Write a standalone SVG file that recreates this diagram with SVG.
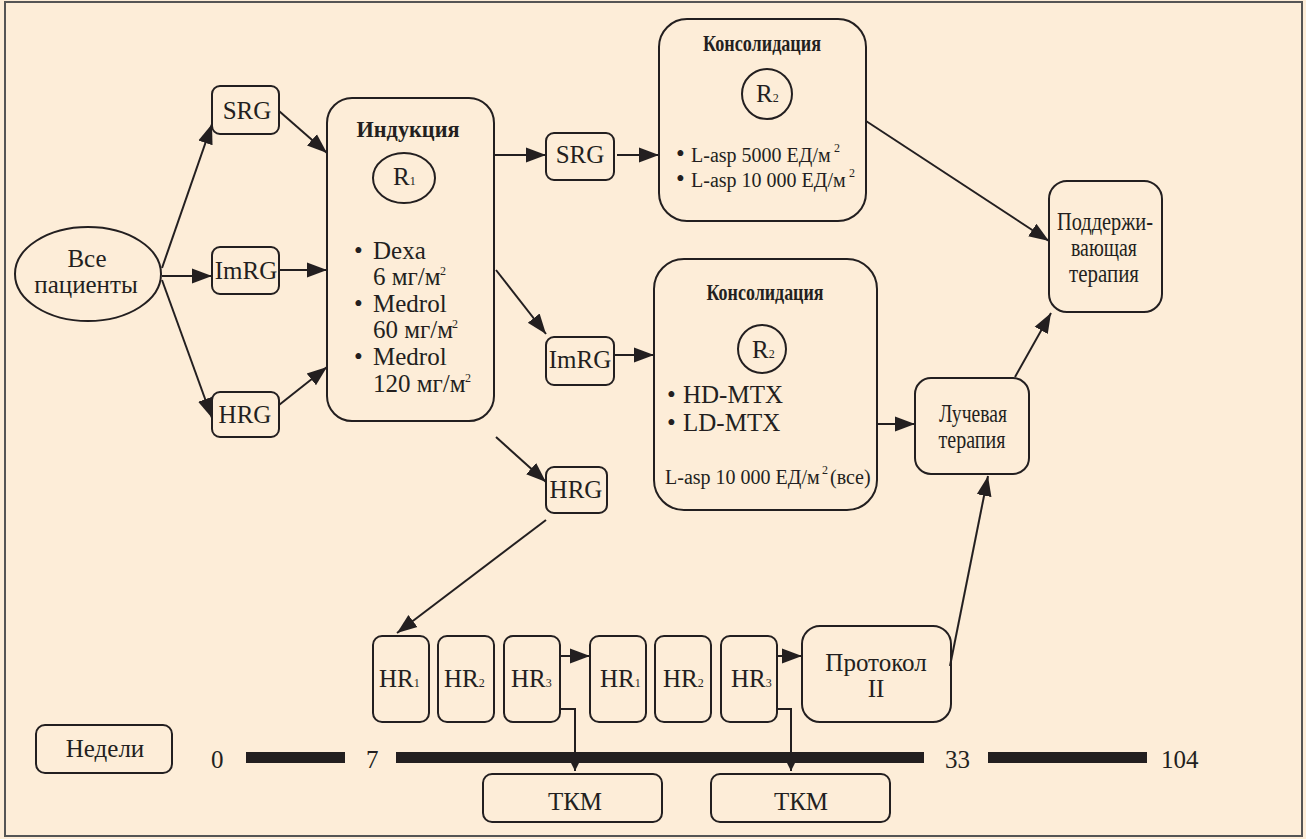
<svg xmlns="http://www.w3.org/2000/svg" width="1306" height="839" viewBox="0 0 1306 839">
<defs>
<marker id="ah" markerUnits="userSpaceOnUse" markerWidth="22" markerHeight="18" refX="20" refY="9" orient="auto">
<path d="M0,1.5 L20,9 L0,16.5 Z" fill="#231f20"/>
</marker>
<marker id="sm" markerUnits="userSpaceOnUse" markerWidth="12" markerHeight="10" refX="10" refY="5" orient="auto">
<path d="M0,0 L10,5 L0,10 Z" fill="#231f20"/>
</marker>
<style>
.bx{fill:none;stroke:#231f20;stroke-width:2}
.t{font-family:"Liberation Serif","Times New Roman",serif;font-size:25px;fill:#231f20}
.n{font-size:20px}
.c{text-anchor:middle}
.b{font-weight:bold;font-size:23px}
.sub{font-size:12px}
.sup{font-family:"Liberation Serif","Times New Roman",serif;font-size:12px;fill:#231f20}
.ln{fill:none;stroke:#231f20;stroke-width:2}
.bar{fill:#231f20}
</style>
</defs>
<rect x="0" y="0" width="1306" height="839" fill="#FDEDD8"/>
<rect x="5" y="2" width="1297" height="834" fill="#FDEDD8" stroke="#555" stroke-width="2"/>

<g id="connectors">
<line class="ln" x1="162" y1="268" x2="212" y2="124" marker-end="url(#ah)"/>
<line class="ln" x1="162" y1="276" x2="212" y2="276" marker-end="url(#ah)"/>
<line class="ln" x1="162" y1="280" x2="212" y2="418" marker-end="url(#ah)"/>
<line class="ln" x1="279" y1="111" x2="327" y2="153" marker-end="url(#ah)"/>
<line class="ln" x1="279" y1="270" x2="327" y2="270" marker-end="url(#ah)"/>
<line class="ln" x1="279" y1="405" x2="327" y2="367" marker-end="url(#ah)"/>
<line class="ln" x1="494" y1="155" x2="546" y2="155" marker-end="url(#ah)"/>
<line class="ln" x1="617" y1="155" x2="659" y2="155" marker-end="url(#ah)"/>
<line class="ln" x1="496" y1="270" x2="546" y2="334" marker-end="url(#ah)"/>
<line class="ln" x1="614" y1="355" x2="654" y2="355" marker-end="url(#ah)"/>
<line class="ln" x1="496" y1="437" x2="546" y2="482" marker-end="url(#ah)"/>
<line class="ln" x1="866" y1="121" x2="1049" y2="241" marker-end="url(#ah)"/>
<line class="ln" x1="877" y1="424" x2="915" y2="424" marker-end="url(#ah)"/>
<line class="ln" x1="1015" y1="377" x2="1051" y2="313" marker-end="url(#ah)"/>
<line class="ln" x1="950" y1="666" x2="988" y2="476" marker-end="url(#ah)"/>
<line class="ln" x1="546" y1="520" x2="397" y2="633" marker-end="url(#ah)"/>
<line class="ln" x1="560" y1="656" x2="590" y2="656" marker-end="url(#ah)"/>
<line class="ln" x1="777" y1="656" x2="802" y2="656" marker-end="url(#ah)"/>
<polyline class="ln" points="560,709 575,709 575,771" marker-end="url(#sm)"/>
<polyline class="ln" points="777,709 791,709 791,771" marker-end="url(#sm)"/>
</g>

<g id="all-patients">
<ellipse class="bx" cx="88" cy="274" rx="73" ry="47"/>
<text class="t c" x="87" y="267">Все</text>
<text class="t c" x="86" y="293">пациенты</text>
</g>

<g id="srg1"><rect class="bx" x="212" y="86" width="67" height="48" rx="8"/><text class="t c" x="247" y="119">SRG</text></g>
<g id="imrg1"><rect class="bx" x="212" y="247" width="67" height="47" rx="8"/><text class="t c" x="246" y="279">ImRG</text></g>
<g id="hrg1"><rect class="bx" x="212" y="392" width="67" height="45" rx="8"/><text class="t c" x="245" y="423">HRG</text></g>

<g id="induction">
<rect class="bx" x="327" y="98" width="167" height="323" rx="25"/>
<text class="t c b" x="408" y="137" textLength="103" lengthAdjust="spacingAndGlyphs">Индукция</text>
<ellipse class="bx" cx="404" cy="178" rx="31" ry="25"/>
<text class="t" x="393" y="185">R<tspan class="sub">1</tspan></text>
<text class="t" x="354" y="259">•</text><text class="t" x="373" y="259">Dexa</text>
<text class="t" x="373" y="285">6 мг/м</text><text class="sup" x="440" y="275">2</text>
<text class="t" x="354" y="312">•</text><text class="t" x="373" y="312">Medrol</text>
<text class="t" x="373" y="338">60 мг/м</text><text class="sup" x="452" y="328">2</text>
<text class="t" x="354" y="365">•</text><text class="t" x="373" y="365">Medrol</text>
<text class="t" x="373" y="392">120 мг/м</text><text class="sup" x="465" y="382">2</text>
</g>

<g id="srg2"><rect class="bx" x="546" y="133" width="68" height="47" rx="8"/><text class="t c" x="580" y="163">SRG</text></g>
<g id="imrg2"><rect class="bx" x="546" y="337" width="68" height="48" rx="8"/><text class="t c" x="580" y="368">ImRG</text></g>
<g id="hrg2"><rect class="bx" x="546" y="467" width="61" height="46" rx="8"/><text class="t c" x="576" y="498">HRG</text></g>

<g id="consolidation1">
<rect class="bx" x="659" y="19" width="207" height="202" rx="28"/>
<text class="t c b" x="762" y="51" textLength="118" lengthAdjust="spacingAndGlyphs">Консолидация</text>
<circle class="bx" cx="767" cy="94" r="25"/>
<text class="t" x="756" y="102">R<tspan class="sub">2</tspan></text>
<text class="t" x="676" y="162">•</text>
<text class="t n" x="691" y="162">L-asp 5000 ЕД/м</text><text class="sup" x="834" y="152">2</text>
<text class="t" x="676" y="187">•</text>
<text class="t n" x="691" y="187">L-asp 10 000 ЕД/м</text><text class="sup" x="849" y="177">2</text>
</g>

<g id="consolidation2">
<rect class="bx" x="654" y="259" width="223" height="251" rx="30"/>
<text class="t c b" x="765" y="300" textLength="117" lengthAdjust="spacingAndGlyphs">Консолидация</text>
<circle class="bx" cx="762" cy="349" r="24"/>
<text class="t" x="752" y="358">R<tspan class="sub">2</tspan></text>
<text class="t" x="667" y="403">•</text>
<text class="t" x="683" y="403">HD-MTX</text>
<text class="t" x="667" y="431">•</text>
<text class="t" x="683" y="431">LD-MTX</text>
<text class="t n" x="665" y="484">L-asp 10 000 ЕД/м</text><text class="sup" x="822" y="474">2</text>
<text class="t n" x="830" y="484">(все)</text>
</g>

<g id="maintenance">
<rect class="bx" x="1049" y="181" width="113" height="131" rx="18"/>
<text class="t c" x="1105" y="230" textLength="96" lengthAdjust="spacingAndGlyphs">Поддержи-</text>
<text class="t c" x="1104" y="256" textLength="66" lengthAdjust="spacingAndGlyphs">вающая</text>
<text class="t c" x="1104" y="282" textLength="70" lengthAdjust="spacingAndGlyphs">терапия</text>
</g>

<g id="radiation">
<rect class="bx" x="915" y="378" width="114" height="96" rx="16"/>
<text class="t c" x="973" y="422" textLength="68" lengthAdjust="spacingAndGlyphs">Лучевая</text>
<text class="t c" x="972" y="448" textLength="67" lengthAdjust="spacingAndGlyphs">терапия</text>
</g>

<g id="hr1a"><rect class="bx" x="373" y="636" width="56" height="86" rx="9"/><text class="t" x="379" y="687">HR<tspan class="sub">1</tspan></text></g>
<g id="hr2a"><rect class="bx" x="438" y="636" width="56" height="86" rx="9"/><text class="t" x="444" y="687">HR<tspan class="sub">2</tspan></text></g>
<g id="hr3a"><rect class="bx" x="504" y="636" width="56" height="86" rx="9"/><text class="t" x="511" y="687">HR<tspan class="sub">3</tspan></text></g>
<g id="hr1b"><rect class="bx" x="590" y="636" width="56" height="86" rx="9"/><text class="t" x="600" y="687">HR<tspan class="sub">1</tspan></text></g>
<g id="hr2b"><rect class="bx" x="655" y="636" width="56" height="86" rx="9"/><text class="t" x="663" y="687">HR<tspan class="sub">2</tspan></text></g>
<g id="hr3b"><rect class="bx" x="721" y="636" width="56" height="86" rx="9"/><text class="t" x="731" y="687">HR<tspan class="sub">3</tspan></text></g>

<g id="protocol2">
<rect class="bx" x="802" y="626" width="149" height="96" rx="18"/>
<text class="t c" x="876" y="671">Протокол</text>
<text class="t c" x="876" y="697">II</text>
</g>

<g id="tkm1"><rect class="bx" x="483" y="774" width="179" height="48" rx="9"/><text class="t c" x="575" y="810">ТКМ</text></g>
<g id="tkm2"><rect class="bx" x="711" y="774" width="179" height="48" rx="9"/><text class="t c" x="801" y="810">ТКМ</text></g>

<g id="weeks">
<rect class="bx" x="36" y="725" width="136" height="48" rx="9"/>
<text class="t c" x="105" y="757">Недели</text>
</g>

<g id="timeline">
<text class="t" x="211" y="768">0</text>
<rect class="bar" x="246" y="752" width="99" height="11"/>
<text class="t" x="366" y="768">7</text>
<rect class="bar" x="396" y="752" width="528" height="11"/>
<text class="t" x="945" y="768">33</text>
<rect class="bar" x="988" y="752" width="159" height="11"/>
<text class="t" x="1161" y="768">104</text>
</g>
</svg>
